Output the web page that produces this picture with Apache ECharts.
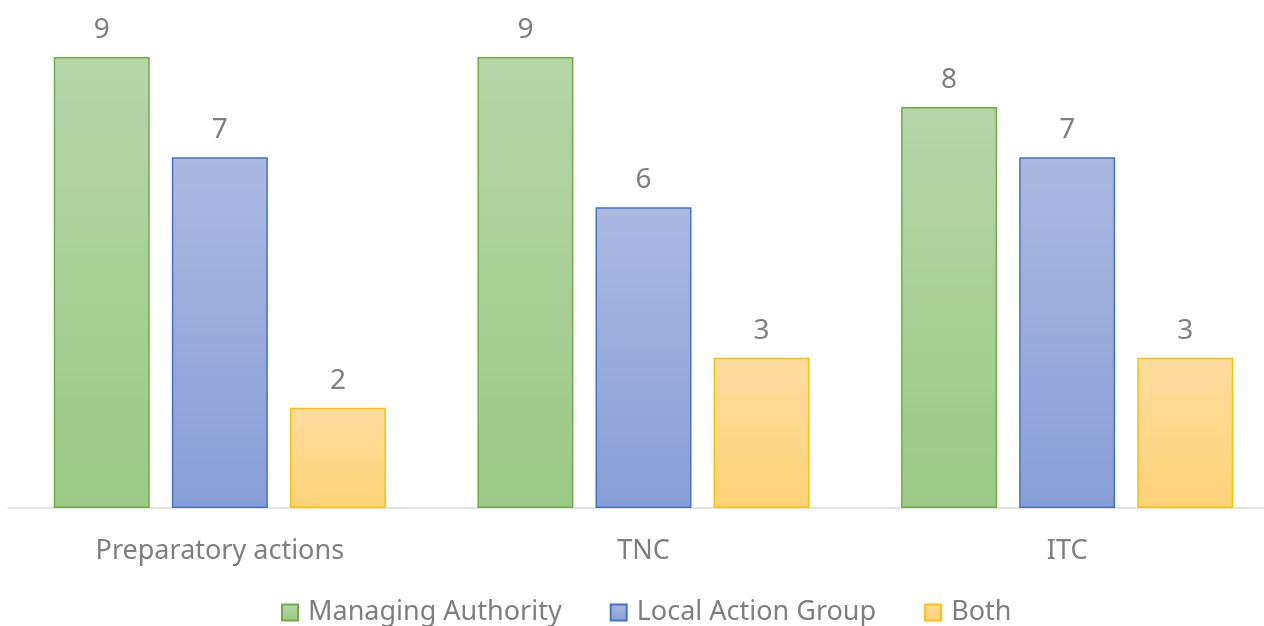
<!DOCTYPE html>
<html>
<head>
<meta charset="utf-8">
<script src="https://cdn.jsdelivr.net/npm/echarts@6/dist/echarts.min.js"></script>
<style>
  html, body { margin: 0; padding: 0; background: #fff; }
  #main { width: 1264px; height: 626px; }
</style>
</head>
<body>
<div id="main"></div>
<script>
// categories and values
const categories = ['Preparatory actions', 'TNC', 'ITC'];
const managingAuthority = [9, 9, 8];
const localActionGroup = [7, 6, 7];
const both = [2, 3, 3];

function grad(top, bottom) {
  return new echarts.graphic.LinearGradient(0, 0, 0, 1, [
    { offset: 0, color: top },
    { offset: 1, color: bottom }
  ]);
}

const labelStyle = {
  show: true,
  position: 'top',
  distance: 13,
  color: '#7f7f7f',
  fontSize: 28,
  fontFamily: 'Noto Sans'
};

const makeSeries = (name, data, top, bottom, border) => ({
  name,
  type: 'bar',
  data,
  barWidth: 96,
  barGap: '23%',
  itemStyle: { color: grad(top, bottom), borderColor: border, borderWidth: 1.5 },
  label: labelStyle
});

const option = {
  animation: false,
  textStyle: { fontFamily: 'Noto Sans' },
  // plot runs a bit past the right edge, like the original
  grid: { left: 8, width: 1271, top: 57, bottom: 118, outerBoundsMode: 'none' },
  legend: {
    bottom: -5,
    left: 276,
    itemWidth: 16,
    itemHeight: 16,
    itemGap: 48,
    icon: 'rect',
    textStyle: { color: '#7f7f7f', fontSize: 27, fontFamily: 'Noto Sans', padding: [0, 0, 0, 5] },
    data: ['Managing Authority', 'Local Action Group', 'Both']
  },
  xAxis: {
    type: 'category',
    data: categories,
    axisLine: { lineStyle: { color: '#d9d9d9', width: 1.5 } },
    axisTick: { show: false },
    axisLabel: { color: '#7f7f7f', fontSize: 27, margin: 30, fontFamily: 'Noto Sans' }
  },
  yAxis: {
    type: 'value',
    min: 0,
    max: 9,
    show: false,
    splitLine: { show: false }
  },
  series: [
    makeSeries('Managing Authority', managingAuthority, '#b6d6a9', '#9cc985', '#70ad47'),
    makeSeries('Local Action Group', localActionGroup, '#abb9e1', '#889ed7', '#4472c4'),
    makeSeries('Both', both, '#ffdc9f', '#ffd378', '#ffc000')
  ]
};

const myChart = echarts.init(document.getElementById('main'));
myChart.setOption(option);
</script>
</body>
</html>
